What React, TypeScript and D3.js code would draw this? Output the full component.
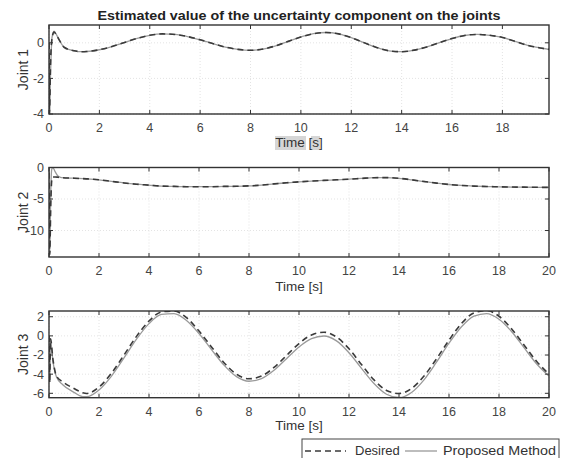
import React from 'react';
import * as d3 from 'd3';

const W = 575;
const H = 458;
const FONT = '"Liberation Sans", Arial, Helvetica, sans-serif';

const titleText = 'Estimated value of the uncertainty component on the joints';
const xAxisLabel = 'Time [s]';
const legendLabels = ['Desired', 'Proposed Method'];

// Joint 1
const timeJ1 = [0, 0.02, 0.06, 0.12, 0.2, 0.3, 0.45, 0.6, 1.0, 1.3,
  1.5, 2.0, 2.5, 3.0, 3.5, 4.0, 4.5, 5.0, 5.5, 6.0, 6.5, 7.0, 7.5, 8.0, 8.5, 9.0, 9.5, 10.0,
  10.5, 11.0, 11.5, 12.0, 12.5, 13.0, 13.5, 14.0, 14.5, 15.0, 15.5, 16.0, 16.5, 17.0, 17.5,
  18.0, 18.5, 19.0, 19.5, 19.85];
const proposedJ1 = [0, -4, -1.8, 0.3, 0.65, 0.45, 0.05, -0.25, -0.45, -0.5,
  -0.49, -0.39, -0.21, 0.02, 0.25, 0.42, 0.5, 0.47, 0.35, 0.17, -0.04, -0.24, -0.37, -0.42,
  -0.35, -0.17, 0.08, 0.33, 0.51, 0.58, 0.5, 0.29, 0.01, -0.26, -0.45, -0.5, -0.41, -0.23,
  0.01, 0.24, 0.41, 0.47, 0.42, 0.3, 0.08, -0.14, -0.29, -0.37];
const desiredJ1 = [0, -4, -1.2, 0.25, 0.6, 0.42, 0.05, -0.25, -0.45, -0.5,
  -0.49, -0.39, -0.21, 0.02, 0.25, 0.42, 0.5, 0.47, 0.35, 0.17, -0.04, -0.24, -0.37, -0.42,
  -0.35, -0.17, 0.08, 0.33, 0.51, 0.58, 0.5, 0.29, 0.01, -0.26, -0.45, -0.5, -0.41, -0.23,
  0.01, 0.24, 0.41, 0.47, 0.42, 0.3, 0.08, -0.14, -0.29, -0.37];

// Joint 2
const timeJ2 = [0, 0.03, 0.07, 0.11, 0.15, 0.25, 0.37, 0.5,
  1.0, 1.5, 2.0, 2.5, 3.0, 3.5, 4.0, 4.5, 5.0, 5.5, 6.0, 6.5, 7.0, 7.5, 8.0, 8.5, 9.0, 9.5,
  10.0, 10.5, 11.0, 11.5, 12.0, 12.5, 13.0, 13.5, 14.0, 14.5, 15.0, 15.5, 16.0, 16.5, 17.0,
  17.5, 18.0, 18.5, 19.0, 19.5, 20.0];
const proposedJ2 = [0, -13.5, -4, -0.3, 0, -0.7, -1.4, -1.6,
  -1.7, -1.8, -1.95, -2.2, -2.45, -2.65, -2.8, -2.95, -3.0, -3.05, -3.05, -3.05, -3.0, -2.98,
  -2.92, -2.8, -2.6, -2.42, -2.28, -2.15, -2.05, -1.95, -1.85, -1.73, -1.62, -1.6, -1.72, -1.95,
  -2.22, -2.48, -2.7, -2.85, -2.95, -3.02, -3.06, -3.1, -3.12, -3.14, -3.15];
const desiredJ2 = [-0.8, -13.8, -6, -2, -1.5, -1.5, -1.55, -1.6,
  -1.7, -1.8, -1.95, -2.2, -2.45, -2.65, -2.8, -2.95, -3.0, -3.05, -3.05, -3.05, -3.0, -2.98,
  -2.92, -2.8, -2.6, -2.42, -2.28, -2.15, -2.05, -1.95, -1.85, -1.73, -1.62, -1.6, -1.72, -1.95,
  -2.22, -2.48, -2.7, -2.85, -2.95, -3.02, -3.06, -3.1, -3.12, -3.14, -3.15];

// Joint 3
const timeJ3 = [0, 0.03, 0.06, 0.16, 0.3, 0.55, 1.0, 1.35,
  1.5, 2.0, 2.5, 3.0, 3.5, 4.0, 4.5, 5.0, 5.5, 6.0, 6.5, 7.0, 7.5, 8.0, 8.5, 9.0, 9.5, 10.0,
  10.5, 11.0, 11.5, 12.0, 12.5, 13.0, 13.5, 14.0, 14.5, 15.0, 15.5, 16.0, 16.5, 17.0, 17.5,
  18.0, 18.5, 19.0, 19.5, 20.0];
const proposedJ3 = [-0.1, -4.8, -0.5, -2.7, -4.3, -5.1, -5.9, -6.35,
  -6.36, -5.65, -4.2, -2.3, -0.34, 1.28, 2.24, 2.33, 1.61, 0.25, -1.43, -3.06, -4.26, -4.74,
  -4.47, -3.6, -2.38, -1.15, -0.28, -0.01, -0.52, -1.76, -3.39, -4.98, -6.1, -6.44, -5.91,
  -4.59, -2.75, -0.77, 0.95, 2.06, 2.33, 1.74, 0.46, -1.23, -2.91, -4.2];
const desiredJ3 = [0, -4.9, -0.3, -2.5, -4.2, -4.8, -5.5, -5.95,
  -6.02, -5.35, -3.9, -2.0, -0.05, 1.55, 2.5, 2.6, 1.9, 0.5, -1.15, -2.8, -4.0, -4.48,
  -4.2, -3.3, -2.05, -0.8, 0.1, 0.38, -0.12, -1.35, -3.0, -4.6, -5.7, -6.02, -5.5,
  -4.2, -2.4, -0.45, 1.3, 2.4, 2.65, 2.05, 0.75, -0.95, -2.65, -4.0];

const xTicksJ1 = [0, 2, 4, 6, 8, 10, 12, 14, 16, 18];
const xTicks = [0, 2, 4, 6, 8, 10, 12, 14, 16, 18, 20];
const yTicksJ1 = [-4, -2, 0];
const yTicksJ2 = [-10, -5, 0];
const yTicksJ3 = [-6, -4, -2, 0, 2];

const LEFT = 49;
const RIGHT = 549;

const panels = [
  { id: 'p1', label: 'Joint 1', time: timeJ1, desired: desiredJ1, proposed: proposedJ1,
    xDomain: [0, 19.85], yDomain: [-4, 1], xTicks: xTicksJ1, yTicks: yTicksJ1,
    top: 25, bottom: 114, tickBase: 131.5, labelBase: 147, highlight: true },
  { id: 'p2', label: 'Joint 2', time: timeJ2, desired: desiredJ2, proposed: proposedJ2,
    xDomain: [0, 20], yDomain: [-14.2, 0], xTicks: xTicks, yTicks: yTicksJ2,
    top: 167.5, bottom: 257, tickBase: 275, labelBase: 291, highlight: false },
  { id: 'p3', label: 'Joint 3', time: timeJ3, desired: desiredJ3, proposed: proposedJ3,
    xDomain: [0, 20], yDomain: [-6.46, 2.6], xTicks: xTicks, yTicks: yTicksJ3,
    top: 311, bottom: 397.7, tickBase: 416, labelBase: 429.5, highlight: false },
];

function Panel({ p }: { p: any }) {
  const x = d3.scaleLinear().domain(p.xDomain).range([LEFT, RIGHT]);
  const y = d3.scaleLinear().domain(p.yDomain).range([p.bottom, p.top]);
  const line = d3.line<number>()
    .x((_, i) => x(p.time[i]))
    .y((d) => y(d))
    .curve(d3.curveMonotoneX);
  const tk = 4;
  const midY = (p.top + p.bottom) / 2;
  return (
    <g>
      <defs>
        <clipPath id={`clip-${p.id}`}>
          <rect x={LEFT} y={p.top} width={RIGHT - LEFT} height={p.bottom - p.top} />
        </clipPath>
      </defs>
      <rect x={LEFT} y={p.top} width={RIGHT - LEFT} height={p.bottom - p.top} fill="#fff" />
      {p.xTicks.map((t: number) => (
        <line key={`gx${t}`} x1={x(t)} x2={x(t)} y1={p.top} y2={p.bottom}
          stroke="#dcdcdc" strokeWidth={0.8} strokeDasharray="1,2" />
      ))}
      {p.yTicks.map((t: number) => (
        <line key={`gy${t}`} x1={LEFT} x2={RIGHT} y1={y(t)} y2={y(t)}
          stroke="#dcdcdc" strokeWidth={0.8} strokeDasharray="1,2" />
      ))}
      <g clipPath={`url(#clip-${p.id})`}>
        <path d={line(p.proposed) || ''} fill="none" stroke="#9a9a9a" strokeWidth={1.3} />
        <path d={line(p.desired) || ''} fill="none" stroke="#3a3a3a" strokeWidth={1.6}
          strokeDasharray="6,4" />
      </g>
      {p.xTicks.map((t: number) => (
        <g key={`tx${t}`}>
          <line x1={x(t)} x2={x(t)} y1={p.bottom} y2={p.bottom - tk} stroke="#333" strokeWidth={1} />
          <line x1={x(t)} x2={x(t)} y1={p.top} y2={p.top + tk} stroke="#333" strokeWidth={1} />
          <text x={x(t)} y={p.tickBase} textAnchor="middle" fontSize={12.5} fill="#444"
            fontFamily={FONT}>{t}</text>
        </g>
      ))}
      {p.yTicks.map((t: number) => (
        <g key={`ty${t}`}>
          <line x1={LEFT} x2={LEFT + tk} y1={y(t)} y2={y(t)} stroke="#333" strokeWidth={1} />
          <line x1={RIGHT} x2={RIGHT - tk} y1={y(t)} y2={y(t)} stroke="#333" strokeWidth={1} />
          <text x={44} y={y(t)} dy="0.35em" textAnchor="end" fontSize={12.5} fill="#444"
            fontFamily={FONT}>{t}</text>
        </g>
      ))}
      <rect x={LEFT} y={p.top} width={RIGHT - LEFT} height={p.bottom - p.top} fill="none"
        stroke="#333" strokeWidth={1.4} />
      {p.highlight && (
        <g>
          <rect x={275} y={136} width={31} height={14} fill="#d6d6d6" />
          <rect x={311} y={136} width={9} height={14} fill="#d6d6d6" />
        </g>
      )}
      <text x={(LEFT + RIGHT) / 2} y={p.labelBase} textAnchor="middle" fontSize={13.5}
        fill="#333" fontFamily={FONT}>{xAxisLabel}</text>
      <text transform={`translate(28,${midY}) rotate(-90)`} textAnchor="middle" fontSize={14}
        fill="#333" fontFamily={FONT}>{p.label}</text>
    </g>
  );
}

export default function App() {
  return (
    <svg width={W} height={H} style={{ position: 'absolute', left: 0, top: 0, background: '#fff' }}>
      <rect x={0} y={0} width={W} height={H} fill="#fff" />
      <text x={299} y={20} textAnchor="middle" fontSize={13} fontWeight="bold" fill="#222"
        fontFamily={FONT} textLength={403} lengthAdjust="spacingAndGlyphs">{titleText}</text>
      {panels.map((p) => <Panel key={p.id} p={p} />)}
      <g>
        <rect x={302} y={439} width={257} height={30} fill="#fff" stroke="#444" strokeWidth={1} />
        <line x1={305} x2={346} y1={451} y2={451} stroke="#3a3a3a" strokeWidth={1.6}
          strokeDasharray="6,4" />
        <text x={355} y={455} fontSize={13} fill="#333" fontFamily={FONT}>{legendLabels[0]}</text>
        <line x1={405} x2={437} y1={451} y2={451} stroke="#9a9a9a" strokeWidth={1.3} />
        <text x={443} y={455} fontSize={13} fill="#333" fontFamily={FONT}
          textLength={113} lengthAdjust="spacingAndGlyphs">{legendLabels[1]}</text>
      </g>
    </svg>
  );
}
